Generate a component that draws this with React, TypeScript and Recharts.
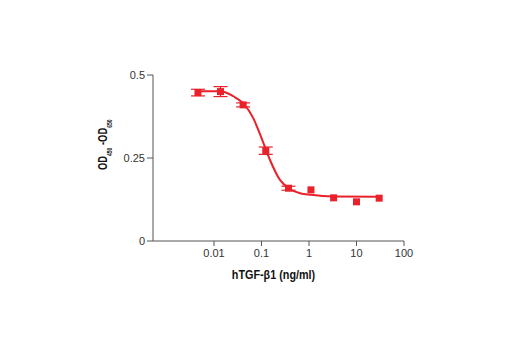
import React from "react";
import {
  ComposedChart,
  Line,
  Scatter,
  ErrorBar,
  XAxis,
  YAxis,
  Label,
} from "recharts";

// measured points (ng/ml, OD450-OD650, error)
const doses = [0.0046, 0.0137, 0.041, 0.123, 0.37, 1.1, 3.3, 10, 30];
const odValues = [0.447, 0.45, 0.41, 0.272, 0.159, 0.154, 0.13, 0.118, 0.129];
const odErrors = [0.01, 0.015, 0.006, 0.011, 0.006, 0, 0, 0, 0];

// fitted curve
const curveDoses = [0.0046, 0.0137, 0.0255, 0.043, 0.067, 0.104, 0.151, 0.245, 0.37, 0.645, 1.1, 3.2, 30];
const curveValues = [0.451, 0.451, 0.436, 0.412, 0.37, 0.304, 0.244, 0.184, 0.159, 0.144, 0.139, 0.134, 0.133];

const xTicks = [0.01, 0.1, 1, 10, 100];
const yTicks = [0, 0.25, 0.5];

const points = doses.map((dose, i) => ({ dose, od: odValues[i], err: odErrors[i] }));
const curve = curveDoses.map((dose, i) => ({ dose, fit: curveValues[i] }));

const RED = "#e8212b";
const AXIS = "#555";
const FONT = "'Liberation Sans Narrow', 'Liberation Sans', Arial, sans-serif";

const tickStyle = { fontFamily: FONT, fontSize: 11, fill: "#333" };

const Square = (props: any) => {
  const { cx, cy } = props;
  if (cx == null || cy == null) return null;
  return <rect x={cx - 3.5} y={cy - 3.5} width={7} height={7} fill={RED} />;
};

// narrow bold title, squeezed along its reading direction
const YTitle = ({ viewBox }: any) => {
  const x = viewBox.x - 6;
  const y = viewBox.y + viewBox.height / 2 + 12;
  return (
    <text
      transform={`translate(${x},${y}) rotate(-90) scale(0.72,1)`}
      fontFamily={FONT}
      fontWeight="bold"
      fontSize={13}
      fill="#111"
    >
      <tspan>OD</tspan>
      <tspan fontSize={7} dy={5}>450</tspan>
      <tspan dy={-5}> -OD</tspan>
      <tspan fontSize={7} dy={5}>650</tspan>
    </text>
  );
};

const XTitle = ({ viewBox }: any) => {
  const cx = viewBox.x + viewBox.width / 2 - 5;
  const y = viewBox.y + 38;
  return (
    <text
      transform={`translate(${cx},${y}) scale(0.9,1)`}
      textAnchor="middle"
      fontFamily={FONT}
      fontWeight="bold"
      fontSize={12}
      fill="#111"
    >
      hTGF-β1 (ng/ml)
    </text>
  );
};

export default function App() {
  return (
    <div style={{ position: "absolute", left: 0, top: 0, background: "#fff" }}>
      <ComposedChart
        width={520}
        height={350}
        margin={{ top: 75, right: 116, bottom: 79, left: 113 }}
      >
        <XAxis
          dataKey="dose"
          type="number"
          scale="log"
          domain={[0.00052, 100]}
          ticks={xTicks}
          tickFormatter={(v: number) => String(v)}
          allowDataOverflow
          height={30}
          stroke={AXIS}
          tickSize={5}
          tickMargin={3}
          tick={tickStyle}
        >
          <Label content={<XTitle />} />
        </XAxis>
        <YAxis
          type="number"
          domain={[0, 0.5]}
          ticks={yTicks}
          width={40}
          stroke={AXIS}
          tickSize={6}
          tickMargin={2}
          tick={tickStyle}
        >
          <Label content={<YTitle />} />
        </YAxis>
        <Line
          data={curve}
          dataKey="fit"
          type="monotone"
          stroke={RED}
          strokeWidth={2}
          dot={false}
          activeDot={false}
          isAnimationActive={false}
        />
        <Scatter data={points} dataKey="od" fill={RED} shape={<Square />} isAnimationActive={false}>
          <ErrorBar dataKey="err" direction="y" width={7} stroke={RED} strokeWidth={1.2} />
        </Scatter>
      </ComposedChart>
    </div>
  );
}
